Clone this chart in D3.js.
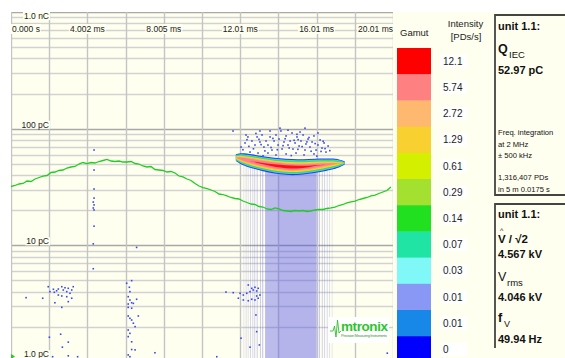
<!DOCTYPE html>
<html><head><meta charset="utf-8">
<script src="https://cdn.jsdelivr.net/npm/d3@7"></script>
<style>body{margin:0;background:#fff}svg{display:block;font-family:"Liberation Sans",Arial,sans-serif}</style>
</head><body>
<svg id="chart" width="565" height="358"></svg>
<script>
// ---- axis ticks ----
const timeTicks = [0, 4.002, 8.005, 12.01, 16.01, 20.01];
const timeLabels = ["0.000 s", "4.002 ms", "8.005 ms", "12.01 ms", "16.01 ms", "20.01 ms"];
const chargeTicks = [1000, 100, 10, 1];
const chargeLabels = ["1.0 nC", "100 pC", "10 pC", "1.0 pC"];

// ---- intensity gamut ----
const gamutColors = ["#ff0000", "#ff8080", "#ffb870", "#f8d030", "#d4f000", "#a4e030",
                     "#20e020", "#20e4a4", "#80f8f8", "#8898f4", "#1888e8", "#0000ff"];
const gamutLabels = ["12.1", "5.74", "2.72", "1.29", "0.61", "0.29", "0.14", "0.07", "0.03", "0.01", "0.01", "0"];

// ---- test voltage over one period (ms, kV) ----
const wavePhase = [0.00,0.21,0.42,0.63,0.84,1.05,1.26,1.47,1.68,1.89,2.10,2.31,2.51,2.72,2.93,3.14,
  3.35,3.56,3.77,3.98,4.19,4.40,4.61,4.82,5.03,5.24,5.45,5.66,5.87,6.08,6.29,6.50,6.70,6.91,7.12,7.33,
  7.54,7.75,7.96,8.17,8.38,8.59,8.80,9.01,9.22,9.43,9.64,9.85,10.06,10.27,10.48,10.69,10.89,11.10,11.31,
  11.52,11.73,11.94,12.15,12.36,12.57,12.78,12.99,13.20,13.41,13.62,13.83,14.04,14.25,14.46,14.67,14.88,
  15.08,15.29,15.50,15.71,15.92,16.13,16.34,16.55,16.76,16.97,17.18,17.39,17.60,17.81,18.02,18.23,18.44,
  18.65,18.86,19.07,19.27,19.48,19.69,19.90];
const waveVolt = [-0.13,0.13,0.52,0.65,1.29,1.16,1.81,2.20,2.58,2.71,3.49,3.62,4.01,4.13,4.65,4.91,
  5.04,5.68,6.07,5.81,6.07,5.94,6.33,6.59,6.85,6.46,6.33,6.46,6.20,6.20,6.33,5.81,5.68,5.17,4.91,5.04,
  4.26,4.13,4.01,3.62,3.75,3.36,2.58,2.33,1.81,1.42,0.65,0.00,-0.39,-0.65,-1.03,-1.42,-2.07,-2.20,-2.58,
  -2.97,-3.23,-3.36,-3.88,-4.26,-4.65,-4.78,-5.30,-5.43,-5.94,-6.07,-5.68,-5.94,-6.33,-6.46,-6.59,-6.33,
  -6.46,-6.33,-6.59,-6.46,-6.20,-6.07,-6.07,-5.81,-5.68,-5.43,-5.04,-4.78,-4.39,-4.13,-3.88,-3.49,-3.23,
  -2.97,-2.58,-2.33,-1.94,-1.55,-1.16,-0.26];

// ---- main PD cluster: phase (ms), centre charge (pC), half-spread per intensity level (decades) ----
const clusterPhase  = [11.78, 12.10, 12.60, 13.20, 13.80, 14.40, 15.00, 15.60, 16.20, 16.80, 17.20, 17.48];
const clusterCentre = [56.5, 55.0, 52.6, 50.0, 48.2, 47.0, 46.6, 47.4, 48.6, 49.8, 50.4, 50.8];
const spreadBlue   = [0.030, 0.052, 0.060, 0.064, 0.068, 0.070, 0.068, 0.064, 0.058, 0.048, 0.036, 0.014];
const spreadCyan   = [0.024, 0.044, 0.051, 0.055, 0.059, 0.061, 0.059, 0.055, 0.049, 0.040, 0.028, 0.008];
const spreadGreen  = [0.018, 0.037, 0.044, 0.047, 0.051, 0.052, 0.051, 0.047, 0.041, 0.032, 0.020, 0.004];
const spreadYellow = [0.010, 0.030, 0.036, 0.039, 0.042, 0.043, 0.042, 0.038, 0.032, 0.023, 0.011, 0.000];
const spreadOrange = [0.004, 0.022, 0.028, 0.031, 0.034, 0.035, 0.034, 0.030, 0.024, 0.014, 0.004, 0.000];
const spreadPink   = [0.000, 0.012, 0.019, 0.023, 0.026, 0.027, 0.026, 0.021, 0.014, 0.006, 0.000, 0.000];
const spreadRed    = [0.000, 0.000, 0.000, 0.006, 0.011, 0.013, 0.012, 0.006, 0.000, 0.000, 0.000, 0.000];

// ---- pulse count columns under the cluster: start ms, end ms, weight, top pC ----
const stemStart  = [12.17, 12.29, 12.40, 12.52, 12.64, 12.74, 12.87, 13.04, 13.16, 13.31, 14.00, 16.13, 16.28, 16.40, 16.54, 16.66, 16.80];
const stemEnd    = [12.20, 12.32, 12.43, 12.55, 12.67, 12.77, 12.91, 13.08, 13.20, 14.00, 16.01, 16.16, 16.31, 16.43, 16.57, 16.69, 16.83];
const stemWeight = [0.35, 0.45, 0.40, 0.55, 0.50, 0.60, 0.65, 0.70, 0.80, 0.90, 1.00, 0.75, 0.60, 0.55, 0.45, 0.40, 0.30];
const stemTop    = [53, 53, 52, 52, 51, 51, 50, 50, 49, 48, 47, 48, 49, 49, 49, 50, 50];

// ---- isolated discharges (ms, pC) ----
const pdDots = [
  [12.05,69.6],[12.26,75.4],[12.41,84.9],[12.62,78.4],[12.78,72.4],[12.89,84.9],[13.04,76.9],[13.15,88.3],
  [13.25,69.6],[13.36,78.4],[13.46,72.4],[13.57,84.9],[13.67,65.6],[13.78,78.4],[13.88,88.3],[13.99,72.4],
  [14.04,81.5],[14.14,95.5],[14.20,67.0],[14.30,76.9],[14.41,86.6],[14.51,72.4],[14.62,78.4],[14.72,91.8],
  [14.77,66.9],[14.88,75.4],[14.98,84.9],[15.09,71.0],[15.19,78.4],[15.30,88.3],[15.40,65.6],[15.45,73.9],
  [15.56,81.5],[15.66,69.6],[15.77,76.9],[15.87,86.6],[15.98,65.6],[16.08,72.4],[16.19,80.0],[16.29,68.2],
  [16.40,75.4],[16.50,63.0],[16.61,71.0],[12.52,63.0],[12.94,61.8],[13.46,61.8],[13.88,59.5],[14.41,60.7],
  [14.93,61.8],[15.35,59.5],[15.87,60.7],[11.63,95.5],[14.09,101],[15.40,101],[12.31,88.3],[13.04,95.5],
  [14.51,97.0],[13.57,95.5],[16.08,91.8],[15.14,93.6],
  [12.15,66.0],[12.46,70.5],[12.70,67.2],[13.10,73.0],[13.30,64.5],[13.62,69.0],[13.95,66.0],[14.25,71.5],
  [14.57,68.3],[14.83,79.5],[15.03,66.5],[15.25,70.2],[15.50,77.0],[15.72,64.0],[15.93,74.5],[16.24,63.8],
  [16.45,67.5],[16.70,64.8],[12.36,80.5],[12.99,81.0],[13.72,82.5],[14.36,82.0],[15.04,80.5],[15.61,84.0],
  [16.35,78.0],[13.20,58.5],[14.68,58.8],[16.02,58.2],[12.83,91.0],[14.98,89.5],
  [4.35,65.6],[4.35,44.2],[4.35,30.4],[4.35,25.4],[4.31,23.5],[4.35,22.2],[4.31,20.9],[4.35,20.1],
  [4.35,14.6],[4.31,10.3],[4.31,6.3],
  [1.95,4.42],[2.04,4.01],[2.22,4.20],[2.27,3.96],[2.39,4.08],[2.48,4.22],[2.66,4.42],[2.74,4.14],
  [2.83,4.33],[2.92,4.01],[3.00,4.28],[3.09,3.88],[3.18,4.14],[3.26,4.42],[2.48,3.75],[2.66,3.68],
  [2.92,3.63],[3.00,3.29],[3.18,3.52],[2.30,3.22],[2.66,2.94],[1.66,3.52],[0.79,3.56],[2.01,1.63],
  [2.60,1.73],[3.00,1.48],[2.69,1.34],[2.18,1.11],[3.00,1.13],[3.49,1.11],
  [6.06,4.73],[6.32,4.98],[6.20,4.37],[6.23,4.01],[6.14,3.63],[6.23,3.40],[6.32,3.22],[6.14,3.14],
  [6.41,3.18],[6.14,2.94],[6.32,2.89],[6.58,3.45],[6.14,2.48],[6.23,2.37],[6.32,2.29],[6.67,2.48],
  [6.41,2.15],[6.50,2.01],[6.14,1.88],[6.23,1.76],[6.14,1.65],[6.32,1.49],[6.32,1.28],[6.50,1.27],
  [6.14,1.15],[6.23,1.11],[7.54,1.20],[6.58,9.6],
  [12.43,4.57],[12.61,4.28],[12.78,4.37],[12.95,4.28],[12.52,4.01],[12.69,4.14],[12.87,4.06],[12.00,3.88],
  [12.17,3.75],[12.35,3.88],[11.64,3.93],[11.26,3.98],[11.91,3.52],[12.17,3.40],[12.43,3.35],[12.61,3.45],
  [12.78,3.40],[12.95,3.52],[13.04,3.75],[12.87,3.68],[12.83,2.53],[12.87,1.82],[12.05,1.60],[13.01,1.40],
  [12.52,1.34],[10.78,1.11],[19.71,1.19]
];

const W = 565, H = 358;
const plot = {left: 11, right: 393, top: 12, bottom: 358};
const svg = d3.select("#chart");
const cream = "#fffff0";

const x = d3.scaleLinear().domain([0, 20.01]).range([plot.left, plot.right]);
const y = d3.scaleLog().domain([1, 1000]).range([362, plot.top]);
const yV = d3.scaleLinear().domain([-6.46, 6.46]).range([211, 161]);

svg.append("rect").attr("width", W).attr("height", H).attr("fill", "#fff");
svg.append("rect").attr("x", plot.left).attr("y", plot.top)
  .attr("width", W - plot.left).attr("height", H - plot.top).attr("fill", cream);

svg.append("defs").append("clipPath").attr("id", "plotClip")
  .append("rect").attr("x", plot.left).attr("y", plot.top)
  .attr("width", plot.right - plot.left).attr("height", plot.bottom - plot.top);

const g = svg.append("g").attr("clip-path", "url(#plotClip)");

// grid
const hTicks = y.ticks();
g.selectAll("line.h").data(hTicks).join("line")
  .attr("x1", plot.left).attr("x2", plot.right)
  .attr("y1", d => Math.round(y(d)) + 0.5).attr("y2", d => Math.round(y(d)) + 0.5)
  .attr("stroke", d => (Math.log10(d) % 1 === 0) ? "#a8a8a8" : "#d2d2d2")
  .attr("stroke-width", 1.6);
const vTicks = d3.range(11).map(i => i * 20.01 / 10);
g.selectAll("line.v").data(vTicks).join("line")
  .attr("y1", plot.top).attr("y2", plot.bottom)
  .attr("x1", d => Math.round(x(d)) + 0.5).attr("x2", d => Math.round(x(d)) + 0.5)
  .attr("stroke", "#c4c4c4").attr("stroke-width", 1.4);

// pulse columns
const stems = stemStart.map((s, i) => ({s, e: stemEnd[i], w: stemWeight[i], top: stemTop[i]}));
g.selectAll("rect.stem").data(stems).join("rect")
  .attr("x", d => x(d.s)).attr("width", d => Math.max(1, x(d.e) - x(d.s)))
  .attr("y", d => y(d.top)).attr("height", d => plot.bottom - y(d.top))
  .attr("fill", "rgb(80,80,230)").attr("fill-opacity", d => 0.43 * d.w);

// isolated discharges
g.selectAll("rect.dot").data(pdDots).join("rect")
  .attr("x", d => x(d[0]) - 0.8).attr("y", d => y(d[1]) - 0.8)
  .attr("width", 1.6).attr("height", 1.6).attr("fill", "#3448f0");

// cluster bands
const levels = [
  {s: spreadBlue, c: "#2040ff"}, {s: spreadCyan, c: "#40d0f0"}, {s: spreadGreen, c: "#40e040"},
  {s: spreadYellow, c: "#e8e020"}, {s: spreadOrange, c: "#ffb060"}, {s: spreadPink, c: "#ff8090"},
  {s: spreadRed, c: "#ff1010"}
];
levels.forEach(lv => {
  const pts = clusterPhase.map((p, i) => ({p, c: clusterCentre[i], s: lv.s[i]}));
  const area = d3.area().curve(d3.curveBasis)
    .x(d => x(d.p)).y0(d => y(d.c / Math.pow(10, d.s))).y1(d => y(d.c * Math.pow(10, d.s)));
  g.append("path").datum(pts).attr("d", area).attr("fill", lv.c);
});

// test voltage
const wave = wavePhase.map((p, i) => [p, waveVolt[i]]);
g.append("path").datum(wave)
  .attr("d", d3.line().x(d => x(d[0])).y(d => yV(d[1])))
  .attr("fill", "none").attr("stroke", "#22cc22").attr("stroke-width", 1.3);

// time labels
timeTicks.forEach((t, i) => {
  const anchor = i === 0 ? "start" : (i === timeTicks.length - 1 ? "end" : "middle");
  const tx = i === 0 ? x(t) + 1 : x(t);
  const txt = svg.append("text").attr("x", tx).attr("y", 32).attr("text-anchor", anchor)
    .attr("font-size", 8.5).attr("fill", "#222").text(timeLabels[i]);
  const bb = txt.node().getBBox();
  svg.insert("rect", () => txt.node()).attr("x", bb.x - 1).attr("y", bb.y)
    .attr("width", bb.width + 2).attr("height", bb.height).attr("fill", cream);
});
// charge labels
chargeTicks.forEach((q, i) => {
  const by = i === 0 ? y(q) + 7 : Math.min(y(q) - 1, 357);
  const txt = svg.append("text").attr("x", 49).attr("y", by).attr("text-anchor", "end")
    .attr("font-size", 8.5).attr("fill", "#222").text(chargeLabels[i]);
  const bb = txt.node().getBBox();
  svg.insert("rect", () => txt.node()).attr("x", bb.x - 1).attr("y", bb.y + 1)
    .attr("width", bb.width + 2).attr("height", bb.height - 2).attr("fill", cream);
});
// bottom marker
svg.append("path").attr("d", "M11,354 L15,356.5 L11,359 Z").attr("fill", "#22cc22");

// logo
const logo = svg.append("g");
logo.append("rect").attr("x", 328).attr("y", 317).attr("width", 61).attr("height", 26).attr("fill", "#fff");
logo.append("path").attr("d", "M330,331 L333,331 L334.5,326 L336,337 L337.5,320 L339,333 L341,331")
  .attr("fill", "none").attr("stroke", "#2fbf2f").attr("stroke-width", 0.9);
logo.append("text").attr("x", 341).attr("y", 330.5).attr("font-size", 13.5).attr("font-weight", "bold")
  .attr("fill", "#2ec42e").attr("textLength", 47).text("mtronix");
logo.append("text").attr("x", 341).attr("y", 337).attr("font-size", 3.8)
  .attr("fill", "#3a9a3a").attr("textLength", 46).text("Precision Measuring Instruments");

// gamut legend
const band = d3.scaleBand().domain(d3.range(gamutColors.length)).range([48, 48 + 26.2 * 12]);
svg.selectAll("rect.gam").data(gamutColors).join("rect")
  .attr("x", 397).attr("width", 34)
  .attr("y", (d, i) => band(i)).attr("height", band.bandwidth() + 0.5).attr("fill", d => d);
gamutLabels.forEach((l, i) => {
  const cy = band(i) + band.bandwidth() / 2;
  svg.append("rect").attr("x", 440).attr("y", cy - 6.5).attr("width", 27).attr("height", 13).attr("fill", "#fff");
  svg.append("text").attr("x", 443).attr("y", cy + 3.6).attr("font-size", 10).attr("fill", "#222").text(l);
});
svg.append("text").attr("x", 400).attr("y", 36).attr("font-size", 9.5).attr("fill", "#222").text("Gamut");
svg.append("text").attr("x", 465.5).attr("y", 26.5).attr("text-anchor", "middle").attr("font-size", 9.5).attr("fill", "#222").text("Intensity");
svg.append("text").attr("x", 466).attr("y", 39.5).attr("text-anchor", "middle").attr("font-size", 9.5).attr("fill", "#222").text("[PDs/s]");

// measurement boxes
svg.append("path").attr("d", "M566,15 H495 V195 H566").attr("fill", "none").attr("stroke", "#444").attr("stroke-width", 1.8);
svg.append("path").attr("d", "M566,204 H495 V348").attr("fill", "none").attr("stroke", "#444").attr("stroke-width", 1.8);

function txt(xp, yp, s, size, bold) {
  return svg.append("text").attr("x", xp).attr("y", yp).attr("font-size", size)
    .attr("font-weight", bold ? "bold" : "normal").attr("fill", "#111").text(s);
}
txt(498, 30, "unit 1.1:", 11, true);
txt(498, 53, "Q", 12.5, true);
txt(509, 58, "IEC", 9.5, false);
txt(498, 74, "52.97 pC", 11, true);
txt(498, 135, "Freq. integration", 7.6, false);
txt(498, 146.5, "at 2 MHz", 7.6, false);
txt(498, 158, "± 500 kHz", 7.6, false);
txt(498, 180, "1,316,407 PDs", 7.6, false);
txt(498, 191.5, "in  5 m 0.0175 s", 7.6, false);

txt(498, 218, "unit 1.1:", 11, true);
txt(498, 243, "V / √2", 11.5, true);
txt(500, 233, "^", 7, false);
txt(498, 258, "4.567 kV", 11, true);
txt(498, 281, "V", 12.5, false);
txt(507, 286, "rms", 9.5, false);
txt(498, 301, "4.046 kV", 11, true);
txt(498, 322, "f", 12.5, true);
txt(504, 327, "V", 9, false);
txt(498, 343, "49.94 Hz", 11, true);
</script>
</body></html>
